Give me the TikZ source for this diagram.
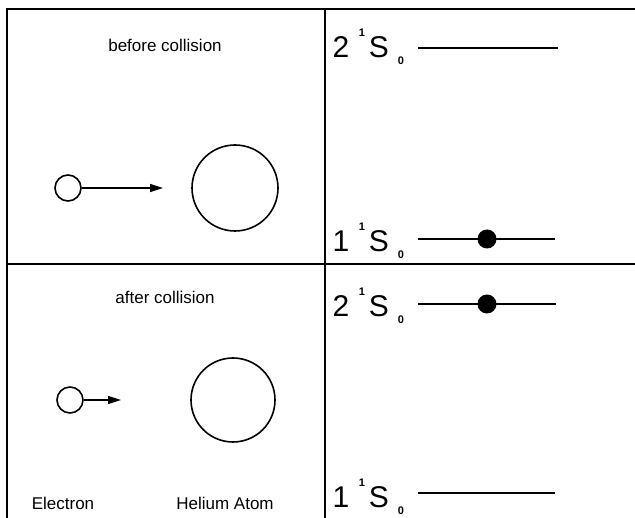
\documentclass[tikz,border=0pt]{standalone}
\usepackage{fontspec}
\setmainfont{Liberation Sans}
\usetikzlibrary{arrows.meta}
\begin{document}
\begin{tikzpicture}[x=1pt,y=-1pt,
  frame/.style={line width=2.2pt},
  ball/.style={draw,circle,line width=1.6pt,inner sep=0pt},
  move/.style={line width=1.5pt,-{Triangle[length=13pt,width=8pt]}},
  level/.style={line width=1.8pt},
  occupied/.style={fill,circle,inner sep=0pt,minimum size=19pt},
  caption/.style={font=\fontsize{17}{19}\selectfont},
  big/.style={font=\fontsize{30}{31}\selectfont,inner sep=0pt},
  tiny/.style={font=\fontsize{11}{12}\selectfont\bfseries,inner sep=0pt}]
\useasboundingbox (0,0) rectangle (635,518);
% panel frame
\coordinate (tl) at (7,9);
\coordinate (tr) at (635,9);
\coordinate (ml) at (7,264);
\coordinate (mr) at (635,264);
\coordinate (bl) at (7,518);
\coordinate (vt) at (325,9);
\coordinate (vb) at (325,518);
\draw[frame] (bl) -- (tl) -- (tr);
\draw[frame] (ml) -- (mr);
\draw[frame] (vt) -- (vb);

% before collision
\node[caption] (cap1) at (165,45) {before collision};
\node[ball,minimum size=26pt] (e1) at (68,188) {};
\node[ball,minimum size=86pt] (he1) at (235,188) {};
\coordinate (e1tip) at (163,188);
\draw[move] (e1.east) -- (e1tip);

% after collision
\node[caption] (cap2) at (165,297) {after collision};
\node[ball,minimum size=26pt] (e2) at (70,400) {};
\node[ball,minimum size=84pt] (he2) at (233,400) {};
\coordinate (e2tip) at (121,400);
\draw[move] (e2.east) -- (e2tip);
\node[caption] (lblE) at (63,503) {Electron};
\node[caption] (lblH) at (225,503) {Helium Atom};

% energy levels, upper panel
\node[big] (n1) at (341,47) {2};
\node[tiny] (m1) at (362,33) {1};
\node[big] (s1) at (379,47) {S};
\node[tiny] (j1) at (401,61) {0};
\coordinate (a1) at (418,48);
\coordinate (b1) at (558,48);
\draw[level] (a1) -- (b1);

\node[big] (n2) at (341,241) {1};
\node[tiny] (m2) at (362,227) {1};
\node[big] (s2) at (379,241) {S};
\node[tiny] (j2) at (401,255) {0};
\coordinate (a2) at (418,239);
\coordinate (b2) at (555,239);
\draw[level] (a2) -- (b2);
\node[occupied] (d2) at (487,239) {};

\node[big] (n3) at (341,306) {2};
\node[tiny] (m3) at (362,292) {1};
\node[big] (s3) at (379,306) {S};
\node[tiny] (j3) at (401,320) {0};
\coordinate (a3) at (418,304);
\coordinate (b3) at (556,304);
\draw[level] (a3) -- (b3);
\node[occupied] (d3) at (487,304) {};

\node[big] (n4) at (341,497) {1};
\node[tiny] (m4) at (362,483) {1};
\node[big] (s4) at (379,497) {S};
\node[tiny] (j4) at (401,511) {0};
\coordinate (a4) at (418,493);
\coordinate (b4) at (555,493);
\draw[level] (a4) -- (b4);
\end{tikzpicture}
\end{document}
